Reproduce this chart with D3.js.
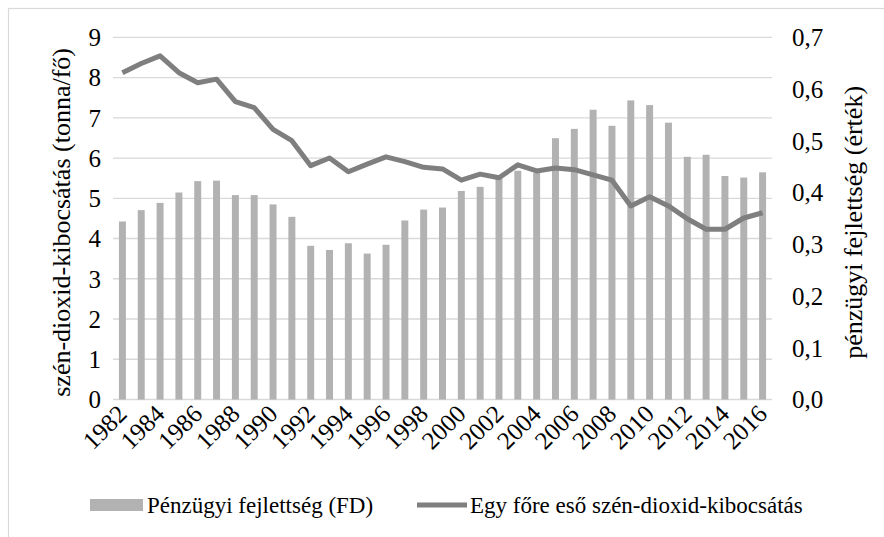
<!DOCTYPE html>
<html><head><meta charset="utf-8">
<script src="https://cdn.jsdelivr.net/npm/d3@7"></script>
<style>
html,body{margin:0;padding:0;background:#fff;}
svg text{font-family:"Liberation Serif","Times New Roman",Times,serif;}
</style></head>
<body><svg id="c" width="884" height="537" xmlns="http://www.w3.org/2000/svg"></svg>
<script>
const years = d3.range(1982, 2017);
const fdValues = [0.344,0.366,0.380,0.400,0.422,0.423,0.395,0.395,0.377,0.353,
  0.297,0.289,0.302,0.282,0.299,0.346,0.367,0.371,0.403,0.411,
  0.428,0.442,0.438,0.505,0.523,0.560,0.529,0.578,0.569,0.535,
  0.469,0.473,0.432,0.429,0.439];
const co2Values = [8.12,8.35,8.54,8.12,7.87,7.96,7.40,7.25,6.71,6.43,
  5.81,6.00,5.66,5.85,6.03,5.91,5.77,5.73,5.45,5.60,
  5.51,5.83,5.68,5.75,5.71,5.58,5.45,4.81,5.04,4.81,
  4.49,4.23,4.23,4.51,4.64];
const leftTicks = [0,1,2,3,4,5,6,7,8,9];
const rightTicks = [0,0.1,0.2,0.3,0.4,0.5,0.6,0.7];
const xLabelYears = years.filter(y => (y - 1982) % 2 === 0);
const leftTitle = "szén-dioxid-kibocsátás (tonna/fő)";
const rightTitle = "pénzügyi fejlettség (érték)";
const legendBar = "Pénzügyi fejlettség (FD)";
const legendLine = "Egy főre eső szén-dioxid-kibocsátás";

const FONT = "'Liberation Serif', 'Times New Roman', Times, serif";
const svg = d3.select("#c");
const L = 113, R = 772, T = 37.3, B = 399.5;
const pad = 0.63;
const x = d3.scaleBand().domain(years).range([L, R]).paddingInner(pad).paddingOuter(pad/2);
const yL = d3.scaleLinear().domain([0, 9]).range([B, T]);
const yR = d3.scaleLinear().domain([0, 0.7]).range([B, T]);
const fmt = d3.format(".1f");
const cx = d => x(d) + x.bandwidth()/2;

function txt(g) {
  return g.append("text").attr("font-family", FONT).attr("fill", "#000");
}

// outer border
svg.append("rect").attr("x", 8.5).attr("y", 8.5).attr("width", 900).attr("height", 600)
  .attr("fill", "none").attr("stroke", "#d9d9d9").attr("stroke-width", 1.2);

// gridlines
svg.append("g").selectAll("line").data(leftTicks).join("line")
  .attr("x1", L).attr("x2", R).attr("y1", d => yL(d)).attr("y2", d => yL(d))
  .attr("stroke", "#d9d9d9").attr("stroke-width", 1.3);

// bars
svg.append("g").selectAll("rect").data(years).join("rect")
  .attr("x", d => x(d)).attr("width", x.bandwidth())
  .attr("y", (d, i) => yR(fdValues[i])).attr("height", (d, i) => B - yR(fdValues[i]))
  .attr("fill", "#b2b2b2");

// line
const line = d3.line().x((d, i) => cx(years[i])).y(d => yL(d));
svg.append("path").datum(co2Values).attr("d", line)
  .attr("fill", "none").attr("stroke", "#7f7f7f").attr("stroke-width", 5)
  .attr("stroke-linejoin", "round");

// left tick labels
const gl = svg.append("g");
leftTicks.forEach(t => {
  txt(gl).attr("x", 101).attr("y", yL(t)).attr("dy", "0.35em").attr("text-anchor", "end")
    .attr("font-size", 25).text(d3.format("d")(t));
});
// right tick labels
const gr = svg.append("g");
rightTicks.forEach(t => {
  txt(gr).attr("x", 792).attr("y", yR(t)).attr("dy", "0.35em").attr("text-anchor", "start")
    .attr("font-size", 25).text(fmt(t).replace(".", ","));
});
// x labels, rotated -45 degrees
const gx = svg.append("g");
xLabelYears.forEach(yv => {
  txt(gx).attr("text-anchor", "end").attr("font-size", 25)
    .attr("transform", `translate(${cx(yv) + 6},${B + 16}) rotate(-45)`)
    .text(yv);
});

// axis titles
txt(svg).attr("transform", `translate(70,${(T+B)/2 + 4}) rotate(-90)`)
  .attr("text-anchor", "middle").attr("font-size", 26).text(leftTitle);
txt(svg).attr("transform", `translate(862,${(T+B)/2 + 4}) rotate(-90)`)
  .attr("text-anchor", "middle").attr("font-size", 26).text(rightTitle);

// legend
const lg = svg.append("g");
lg.append("rect").attr("x", 90).attr("y", 499).attr("width", 53).attr("height", 12).attr("fill", "#b2b2b2");
txt(lg).attr("x", 147).attr("y", 513).attr("font-size", 23).text(legendBar);
lg.append("line").attr("x1", 417).attr("x2", 467).attr("y1", 505).attr("y2", 505)
  .attr("stroke", "#7f7f7f").attr("stroke-width", 5);
txt(lg).attr("x", 470).attr("y", 513).attr("font-size", 23).text(legendLine);
</script></body></html>
